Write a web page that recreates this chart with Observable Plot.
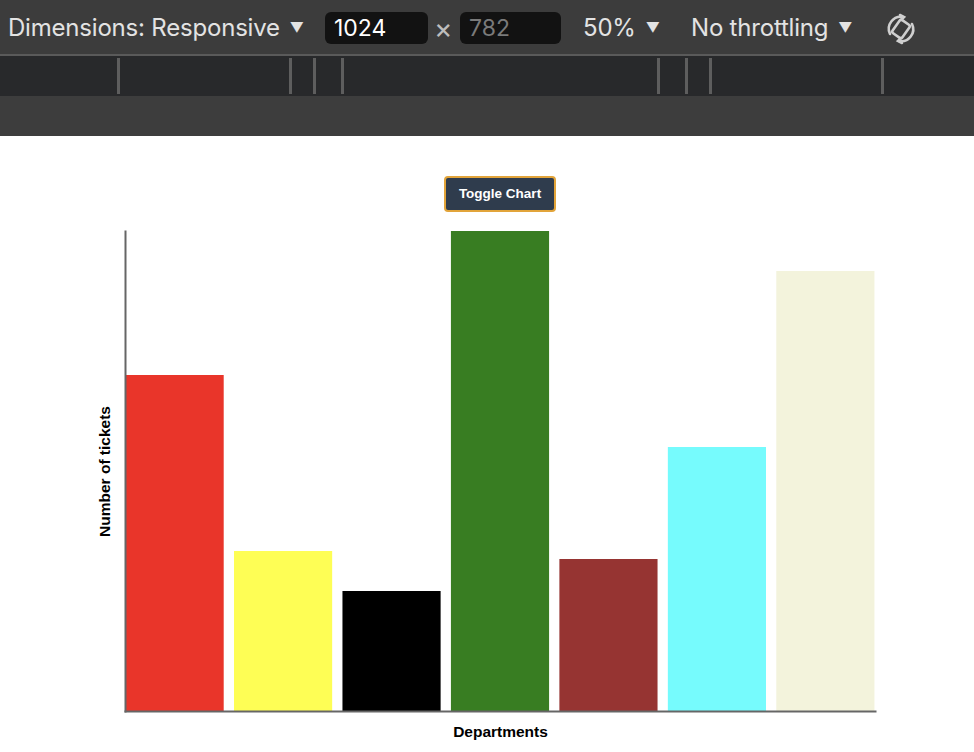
<!DOCTYPE html>
<html>
<head>
<meta charset="utf-8">
<script src="https://cdn.jsdelivr.net/npm/d3@7"></script>
<script src="https://cdn.jsdelivr.net/npm/@observablehq/plot@0.6"></script>
<style>
  html, body { margin: 0; padding: 0; background: #fff; width: 974px; height: 752px; overflow: hidden; }
  #devtools { position: relative; width: 974px; height: 136px; background: #3c3c3c; font-family: Inter, "Noto Sans", sans-serif; color: #e3e3e3; }
  #devtools .row2 { position: absolute; left: 0; top: 54px; width: 974px; height: 40px; background: #28292b; border-top: 2px solid #5a5a5a; border-bottom: 2px solid #5a5a5a; }
  #devtools .row3 { position: absolute; left: 0; top: 96px; width: 974px; height: 40px; background: #3d3d3d; }
  #devtools .tick { position: absolute; top: 2px; width: 3px; height: 36px; background: #5e5e5e; }
  #devtools .t { position: absolute; top: 12px; font-size: 24px; line-height: 32px; white-space: nowrap; letter-spacing: -0.2px; }
  #devtools .arr { font-size: 14px; vertical-align: 3px; margin-left: 10px; }
  #devtools .box { position: absolute; top: 12px; height: 32px; border-radius: 6px; background: #121212; font-size: 23px; line-height: 32px; padding-left: 9px; box-sizing: border-box; }
  #btnwrap { height: 79px; position: relative; }
  #toggle { position: absolute; left: 444px; top: 40px; width: 112px; height: 36px; box-sizing: border-box; background: #2f3c4d; border: 2px solid #e2a43a; border-radius: 4px; color: #fff; font: bold 13.5px "Liberation Sans", Arial, sans-serif; line-height: 32px; text-align: center; }
  #chart svg { display: block; }
</style>
</head>
<body>
<div id="devtools">
  <div class="t" style="left:8px">Dimensions: Responsive<span class="arr">▼</span></div>
  <div class="box" style="left:325px;width:103px;color:#fff">1024</div>
  <div class="t" style="left:434px;color:#bdbdbd;font-size:28px">×</div>
  <div class="box" style="left:460px;width:101px;color:#7a7a7a">782</div>
  <div class="t" style="left:583px">50%<span class="arr">▼</span></div>
  <div class="t" style="left:691px">No throttling<span class="arr">▼</span></div>
  <svg style="position:absolute;left:882px;top:10px" width="38" height="38" viewBox="0 0 38 38">
    <g fill="none" stroke="#cfcfcf" stroke-width="2.6" stroke-linecap="round">
      <path d="M8 24 A12 12 0 0 1 21 7"/>
      <path d="M30 14 A12 12 0 0 1 17 31"/>
      <path d="M18 5 L22 7 L19 10"/>
      <path d="M20 33 L16 31 L19 28"/>
      <rect x="13" y="11" width="12" height="16" rx="2" transform="rotate(35 19 19)"/>
    </g>
  </svg>
  <div class="row2">
    <div class="tick" style="left:117px"></div>
    <div class="tick" style="left:289px"></div>
    <div class="tick" style="left:313px"></div>
    <div class="tick" style="left:341px"></div>
    <div class="tick" style="left:657px"></div>
    <div class="tick" style="left:685px"></div>
    <div class="tick" style="left:709px"></div>
    <div class="tick" style="left:881px"></div>
  </div>
  <div class="row3"></div>
</div>
<div id="btnwrap"><div id="toggle">Toggle Chart</div></div>
<div id="chart"></div>
<script>
const departments = ["Sales", "Marketing", "Finance", "Support", "HR", "IT", "Operations"];
const tickets = [42, 20, 15, 60, 19, 33, 55];
const barColors = ["#e9352a", "#fefe55", "#000000", "#387d22", "#963432", "#76fbfd", "#f3f3dc"];

const data = departments.map((d, i) => ({department: d, tickets: tickets[i]}));

const chart = Plot.plot({
  width: 974,
  height: 537,
  marginLeft: 125,
  marginRight: 99,
  marginTop: 16,
  marginBottom: 41,
  style: {fontFamily: "'Liberation Sans', Arial, sans-serif", background: "#fff"},
  x: {domain: departments, paddingInner: 0.095, paddingOuter: 0.005, round: false, axis: null},
  y: {domain: [0, 60], axis: null},
  color: {domain: departments, range: barColors},
  marks: [
    Plot.barY(data, {x: "department", y: "tickets", fill: "department"}),
    Plot.frame({anchor: "left", stroke: "#666", strokeWidth: 2}),
    Plot.frame({anchor: "bottom", stroke: "#666", strokeWidth: 2}),
    Plot.text(["Number of tickets"], {frameAnchor: "left", textAnchor: "middle", rotate: -90, dx: -20, fontWeight: "bold", fontSize: 15.5, fill: "#000"}),
    Plot.text(["Departments"], {frameAnchor: "bottom", dy: 25, fontWeight: "bold", fontSize: 15.5, fill: "#000"})
  ]
});
document.getElementById("chart").appendChild(chart);
</script>
</body>
</html>
